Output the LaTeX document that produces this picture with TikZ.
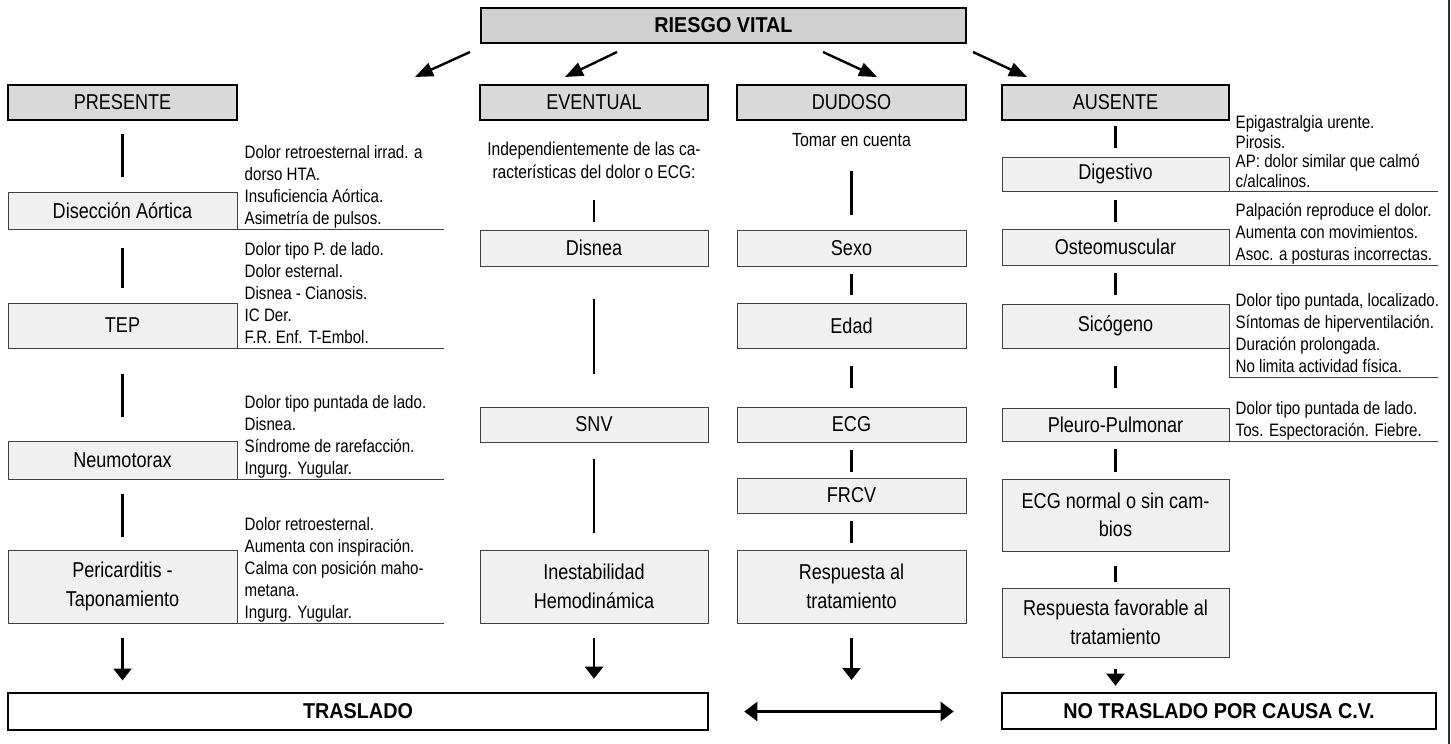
\documentclass[tikz,border=0pt]{standalone}
\usepackage{fontspec}
\setmainfont[FakeStretch=0.84, BoldFeatures={FakeStretch=0.92}]{Liberation Sans}
\usetikzlibrary{arrows.meta}
\definecolor{headgray}{gray}{0.85}
\definecolor{topgray}{gray}{0.82}
\definecolor{itemgray}{gray}{0.94}
\definecolor{rulegray}{gray}{0.25}
\begin{document}
\begin{tikzpicture}[x=1pt,y=-1pt,
  head/.style={draw=black, line width=2.2pt, fill=headgray, inner sep=0pt,
    minimum height=35pt, font=\fontsize{21.5}{24}\selectfont},
  item/.style={draw=rulegray, line width=1pt, fill=itemgray, inner sep=0pt,
    align=center, font=\fontsize{21.5}{28.5}\selectfont},
  final/.style={draw=black, line width=2.6pt, fill=white, inner sep=0pt,
    font=\fontsize{21.5}{24}\selectfont\bfseries},
  note/.style={anchor=south west, align=left, inner sep=0pt, text depth=0pt,
    font=\fontsize{18}{22}\selectfont},
  underline/.style={draw=rulegray, line width=1pt},
  link/.style={line width=2.6pt},
  down/.style={line width=2.4pt, -{Triangle[width=18pt,length=12pt]}},
  slant/.style={line width=2.4pt, -{Triangle[width=14pt,length=18pt]}},
  both/.style={line width=2.4pt, {Triangle[width=19pt,length=13pt]}-{Triangle[width=19pt,length=13pt]}}
]
\useasboundingbox (0,0) rectangle (1451,744);

% frame edge on the right
\draw[line width=2pt, black!80] (1449,0) -- (1449,744);

% top box and the four categories
\node[head, fill=topgray, minimum width=485pt, font=\fontsize{21.5}{24}\selectfont\bfseries] (riesgo) at (723.5,25.5) {RIESGO VITAL};
\node[head, minimum width=229pt] (presente) at (122.5,102.5) {PRESENTE};
\node[head, minimum width=228pt] (eventual) at (594,102.5) {EVENTUAL};
\node[head, minimum width=229pt] (dudoso) at (851.5,102.5) {DUDOSO};
\node[head, minimum width=227pt] (ausente) at (1115.5,102.5) {AUSENTE};

\coordinate (t1s) at (470,52);  \coordinate (t1e) at (415,77);
\coordinate (t2s) at (617,52);  \coordinate (t2e) at (565,77);
\coordinate (t3s) at (823,52);  \coordinate (t3e) at (877,77);
\coordinate (t4s) at (973,52);  \coordinate (t4e) at (1027,77);
\draw[slant] (t1s) -- (t1e);
\draw[slant] (t2s) -- (t2e);
\draw[slant] (t3s) -- (t3e);
\draw[slant] (t4s) -- (t4e);

% PRESENTE column
\node[item, minimum width=229pt, minimum height=37pt] (disec) at (122.5,210.5) {Disección Aórtica};
\node[item, minimum width=229pt, minimum height=45pt] (tep)   at (122.5,325.5) {TEP};
\node[item, minimum width=229pt, minimum height=38pt] (neumo) at (122.5,460) {Neumotorax};
\node[item, minimum width=229pt, minimum height=73pt] (peri)  at (122.5,586.5) {Pericarditis -\\Taponamiento};

\node[note] (ndisec) at ([shift={(7,-5)}]disec.south east)
  {Dolor retroesternal irrad. a\\dorso HTA.\\Insuficiencia Aórtica.\\Asimetría de pulsos.};
\node[note] (ntep) at ([shift={(7,-5)}]tep.south east)
  {Dolor tipo P. de lado.\\Dolor esternal.\\Disnea - Cianosis.\\IC Der.\\F.R. Enf. T-Embol.};
\node[note] (nneumo) at ([shift={(7,-5)}]neumo.south east)
  {Dolor tipo puntada de lado.\\Disnea.\\Síndrome de rarefacción.\\Ingurg. Yugular.};
\node[note] (nperi) at ([shift={(7,-5)}]peri.south east)
  {Dolor retroesternal.\\Aumenta con inspiración.\\Calma con posición maho-\\metana.\\Ingurg. Yugular.};
\draw[underline] (disec.south east) -- ++(206,0);
\draw[underline] (tep.south east) -- ++(206,0);
\draw[underline] (neumo.south east) -- ++(206,0);
\draw[underline] (peri.south east) -- ++(206,0);

\draw[link, shorten <=13pt, shorten >=15pt] (presente.south) -- (disec.north);
\draw[link, shorten <=18pt, shorten >=15pt] (disec.south) -- (tep.north);
\draw[link, shorten <=25pt, shorten >=24pt] (tep.south) -- (neumo.north);
\draw[link, shorten <=14pt, shorten >=13pt] (neumo.south) -- (peri.north);

% EVENTUAL column
\node[align=center, inner sep=0pt, font=\fontsize{18.5}{23}\selectfont] (evtxt) at (594,160)
  {Independientemente de las ca-\\racterísticas del dolor o ECG:};
\node[item, minimum width=228pt, minimum height=36pt] (disnea) at (594,248) {Disnea};
\node[item, minimum width=228pt, minimum height=35pt] (snv)    at (594,424.5) {SNV};
\node[item, minimum width=228pt, minimum height=73pt] (inest)  at (594,586.5) {Inestabilidad\\Hemodinámica};
\draw[link, shorten <=79pt, shorten >=8pt] (eventual.south) -- (disnea.north);
\draw[link, shorten <=32pt, shorten >=33pt] (disnea.south) -- (snv.north);
\draw[link, shorten <=16pt, shorten >=17pt] (snv.south) -- (inest.north);

% DUDOSO column
\node[inner sep=0pt, font=\fontsize{19}{22}\selectfont] (tomar) at (851.5,140) {Tomar en cuenta};
\node[item, minimum width=229pt, minimum height=36pt] (sexo) at (851.5,248) {Sexo};
\node[item, minimum width=229pt, minimum height=45pt] (edad) at (851.5,325.5) {Edad};
\node[item, minimum width=229pt, minimum height=35pt] (ecg)  at (851.5,424.5) {ECG};
\node[item, minimum width=229pt, minimum height=35pt] (frcv) at (851.5,495.5) {FRCV};
\node[item, minimum width=229pt, minimum height=73pt] (resp) at (851.5,586.5) {Respuesta al\\tratamiento};
\draw[link, shorten <=50pt, shorten >=15pt] (dudoso.south) -- (sexo.north);
\draw[link, shorten <=7pt, shorten >=8pt] (sexo.south) -- (edad.north);
\draw[link, shorten <=17pt, shorten >=19pt] (edad.south) -- (ecg.north);
\draw[link, shorten <=7pt, shorten >=6pt] (ecg.south) -- (frcv.north);
\draw[link, shorten <=7pt, shorten >=7pt] (frcv.south) -- (resp.north);

% AUSENTE column
\node[item, minimum width=227pt, minimum height=34pt] (dig)    at (1115.5,174) {Digestivo};
\node[item, minimum width=227pt, minimum height=36pt] (osteo)  at (1115.5,247) {Osteomuscular};
\node[item, minimum width=227pt, minimum height=44pt] (sico)   at (1115.5,326) {Sicógeno};
\node[item, minimum width=227pt, minimum height=33pt] (pleuro) at (1115.5,424.5) {Pleuro-Pulmonar};
\node[item, minimum width=227pt, minimum height=72pt] (ecgn)   at (1115.5,515) {ECG normal o sin cam-\\bios};
\node[item, minimum width=227pt, minimum height=69pt] (respf)  at (1115.5,622.5) {Respuesta favorable al\\tratamiento};

\node[note, font=\fontsize{18}{19.5}\selectfont] (ndig) at ([shift={(6,-4)}]dig.south east)
  {Epigastralgia urente.\\Pirosis.\\AP: dolor similar que calmó\\c/alcalinos.};
\node[note] (nosteo) at ([shift={(6,-5)}]osteo.south east)
  {Palpación reproduce el dolor.\\Aumenta con movimientos.\\Asoc. a posturas incorrectas.};
\node[note] (nsico) at ([shift={(6,24)}]sico.south east)
  {Dolor tipo puntada, localizado.\\Síntomas de hiperventilación.\\Duración prolongada.\\No limita actividad física.};
\node[note] (npleuro) at ([shift={(6,-5)}]pleuro.south east)
  {Dolor tipo puntada de lado.\\Tos. Espectoración. Fiebre.};
\draw[underline] (dig.south east) -- ++(208,0);
\draw[underline] (osteo.south east) -- ++(208,0);
\draw[underline] (sico.south east) -- ++(0,29) -- ++(208,0);
\draw[underline] (pleuro.south east) -- ++(208,0);

\draw[link, shorten <=5pt, shorten >=9pt] (ausente.south) -- (dig.north);
\draw[link, shorten <=8pt, shorten >=7pt] (dig.south) -- (osteo.north);
\draw[link, shorten <=7pt, shorten >=9pt] (osteo.south) -- (sico.north);
\draw[link, shorten <=17pt, shorten >=20pt] (sico.south) -- (pleuro.north);
\draw[link, shorten <=7pt, shorten >=7pt] (pleuro.south) -- (ecgn.north);
\draw[link, shorten <=14pt, shorten >=6pt] (ecgn.south) -- (respf.north);

% outcomes
\node[final, minimum width=700pt, minimum height=37pt] (traslado) at (358,711.5) {TRASLADO};
\node[final, minimum width=434pt, minimum height=36pt] (notras) at (1219,711) {NO TRASLADO POR CAUSA C.V.};

\coordinate (dend) at (851.5,680);
\draw[down, shorten <=14pt] (peri.south) -- ++(0,57);
\draw[down, shorten <=14pt, shorten >=13pt] (inest.south) -- (inest.south |- traslado.north);
\draw[down, shorten <=14pt] (resp.south) -- (dend);
\draw[down, shorten <=11pt, shorten >=6pt] (respf.south) -- (respf.south |- notras.north);
\draw[both, shorten <=35pt, shorten >=47pt] (traslado.east) -- (traslado.east -| notras.west);
\end{tikzpicture}
\end{document}
